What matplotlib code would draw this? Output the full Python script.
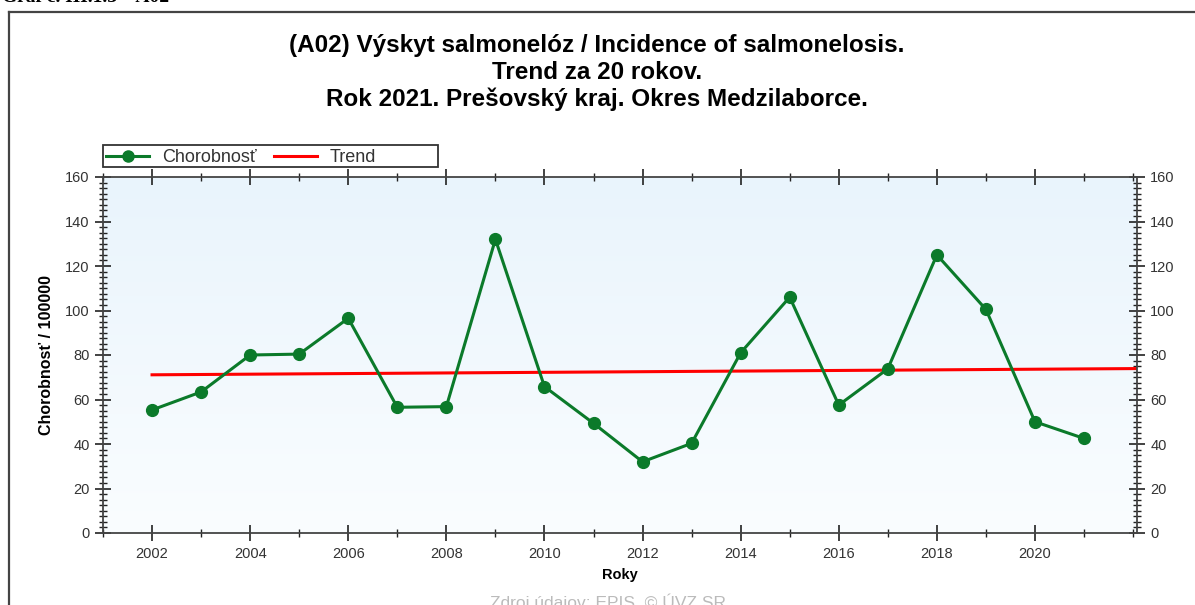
import numpy as np
import matplotlib
matplotlib.use("Agg")
import matplotlib.pyplot as plt
from matplotlib.lines import Line2D
from matplotlib.patches import Rectangle
from matplotlib.ticker import MultipleLocator
from matplotlib.colors import LinearSegmentedColormap

years = [2002, 2003, 2004, 2005, 2006, 2007, 2008, 2009, 2010, 2011,
         2012, 2013, 2014, 2015, 2016, 2017, 2018, 2019, 2020, 2021]
incidence = [55.3, 63.4, 80.0, 80.4, 96.5, 56.5, 56.8, 132.0, 65.8, 49.3,
             32.0, 40.3, 81.0, 106.0, 57.5, 73.8, 125.0, 100.5, 50.0, 42.5]
trend_years = [2002, 2022.08]
trend_values = [71.1, 73.9]

title = ("(A02) Výskyt salmonelóz / Incidence of salmonelosis.\n"
         "Trend za 20 rokov.\n"
         "Rok 2021. Prešovský kraj. Okres Medzilaborce.")
ylabel = "Chorobnosť / 100000"
xlabel = "Roky"
source = "Zdroj údajov: EPIS, © ÚVZ SR"
header = "Graf č. III.1.3 – A02"

plt.rcParams['font.family'] = ['Liberation Sans', 'DejaVu Sans']

W, H = 1195, 605
fig = plt.figure(figsize=(W / 100, H / 100), dpi=100)

# outer frame lines
fig.add_artist(Line2D([9 / W, 9 / W], [0, 1 - 12 / H], transform=fig.transFigure,
                      color='#444444', lw=1.6))
fig.add_artist(Line2D([9 / W, 1], [1 - 12 / H, 1 - 12 / H], transform=fig.transFigure,
                      color='#444444', lw=1.6))
fig.text(2 / W, 1 + 3 / H, header, ha='left', va='center', fontsize=14,
         fontweight='bold', family=['Liberation Serif', 'DejaVu Serif'])

ax = fig.add_axes([103 / W, 1 - 533 / H, (1137 - 103) / W, 356 / H])
ax.set_xlim(2001, 2022.08)
ax.set_ylim(0, 160)

# gradient background
grad = np.linspace(0, 1, 256).reshape(-1, 1)
cmap = LinearSegmentedColormap.from_list('bg', ['#fafdff', '#e9f4fc'])
ax.imshow(grad, aspect='auto', cmap=cmap, origin='lower',
          extent=[2001, 2022.08, 0, 160], zorder=0)

ax.plot(trend_years, trend_values, color='#ff0000', lw=2.2, zorder=2, label='Trend')
ax.plot(years, incidence, color='#0b7a2a', lw=2.2, marker='o', markersize=8.5,
        zorder=3, label='Chorobnosť')

ax.xaxis.set_major_locator(MultipleLocator(2))
ax.xaxis.set_minor_locator(MultipleLocator(1))
ax.yaxis.set_major_locator(MultipleLocator(20))
ax.yaxis.set_minor_locator(MultipleLocator(2.5))
ax.set_xticks(range(2002, 2022, 2))

ax.tick_params(which='both', direction='inout', top=True, right=True,
               labelright=True, colors='#222222', labelcolor='#333333',
               labelsize=10.5)
ax.tick_params(which='major', length=12, width=1.2)
ax.tick_params(which='minor', length=6, width=1.0)
ax.tick_params(axis='x', which='major', pad=4)
for s in ax.spines.values():
    s.set_color('#444444')
    s.set_linewidth(1.3)

ax.set_ylabel(ylabel, fontsize=11.5, fontweight='bold', labelpad=8)
ax.set_xlabel(xlabel, fontsize=10.5, fontweight='bold', labelpad=5)

fig.text(597 / W, 1 - 72.5 / H, title, ha='center', va='center', fontsize=17.5,
         fontweight='bold', linespacing=1.2)

# legend
fig.add_artist(Rectangle((103 / W, 1 - 167 / H), 335 / W, 22 / H,
                         transform=fig.transFigure, facecolor='white',
                         edgecolor='#333333', lw=1.3))
handles = [Line2D([], [], color='#0b7a2a', lw=2.2, marker='o', markersize=8),
           Line2D([], [], color='#ff0000', lw=2.2)]
leg = fig.legend(handles, ['Chorobnosť', 'Trend'], ncol=2,
                 loc='center left', bbox_to_anchor=(106 / W, 1 - 157.5 / H),
                 fontsize=13, frameon=False,
                 borderpad=0.0, handlelength=2.4, handletextpad=0.7,
                 columnspacing=0.95, borderaxespad=0)
for t in leg.get_texts():
    t.set_color('#333333')

fig.text(608 / W, 1 - 602 / H, source, ha='center', va='center', fontsize=12.5,
         color='#bbbbbb')

fig.savefig('out.png', dpi=100)
